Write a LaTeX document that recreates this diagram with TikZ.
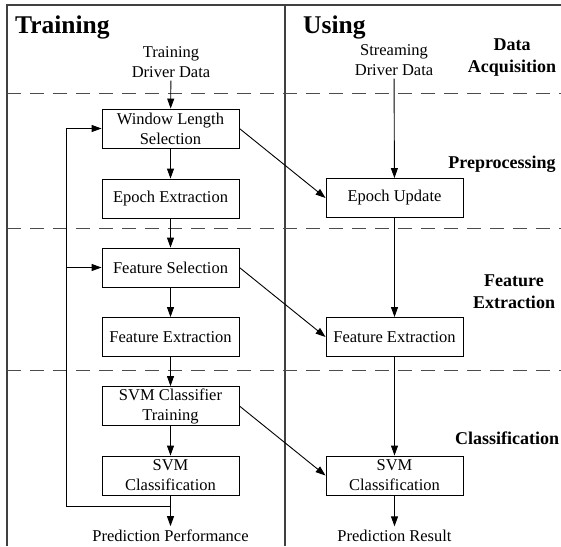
\documentclass[tikz,border=0pt]{standalone}
\usepackage{fontspec}
\setmainfont{Liberation Serif}
\usetikzlibrary{arrows.meta}
\tikzset{
    procbox/.style={draw, line width=0.9pt, minimum width=137pt, minimum height=39pt, inner sep=1pt, align=center, font=\fontsize{16.5}{20}\selectfont},
    plain/.style={align=center, inner sep=3pt, font=\fontsize{16.5}{20}\selectfont},
    stage/.style={align=center, inner sep=0pt, font=\fontsize{18}{22}\selectfont\bfseries},
    heading/.style={inner sep=0pt, font=\fontsize{25.5}{30}\selectfont\bfseries},
    arr/.style={line width=0.9pt, -{Triangle[length=10pt,width=7pt]}},
    frame/.style={line width=1.3pt, black!75},
    sep/.style={line width=1pt, black!70, dash pattern=on 14pt off 9pt}
}
\begin{document}
\begin{tikzpicture}[x=1pt,y=-1pt]
    \useasboundingbox (0,0) rectangle (561,546);
    \draw[frame] (7,546) -- (7,5) -- (561,5);
    \draw[frame] (285,5) -- (285,546);
    \foreach \y in {93,228,370}{
        \draw[sep] (7,\y) -- (561,\y);
    }
    \node[heading, anchor=base west] (train) at (15,33) {Training};
    \node[heading, anchor=base west] (use) at (303,33) {Using};
    \node[stage] (acq) at (512,58) {Data\\Acquisition};
    \node[stage, anchor=base] (pre) at (502,168) {Preprocessing};
    \node[stage] (fea) at (514,292) {Feature\\Extraction};
    \node[stage, anchor=base] (cls) at (507,444) {Classification};
    \node[plain] (tdd) at (171,62) {Training\\Driver Data};
    \node[plain] (sdd) at (394,60) {Streaming\\Driver Data};
    \node[procbox] (wls) at (170.5,128.5) {Window Length\\Selection};
    \node[procbox] (epx) at (170.5,198.5) {Epoch Extraction};
    \node[procbox] (fsel) at (170.5,267.5) {Feature Selection};
    \node[procbox] (fext) at (170.5,337) {Feature Extraction};
    \node[procbox] (svmt) at (170.5,406) {SVM Classifier\\Training};
    \node[procbox] (svmc) at (170.5,475.5) {SVM\\Classification};
    \node[plain, anchor=base] (perf) at (170.5,541) {Prediction Performance};
    \node[procbox] (epu) at (394.5,198) {Epoch Update};
    \node[procbox] (fextu) at (394.5,337) {Feature Extraction};
    \node[procbox] (svmcu) at (394.5,475.5) {SVM\\Classification};
    \node[plain, anchor=base] (res) at (394.5,541) {Prediction Result};
    \coordinate (fb) at (66,506);
    \draw[arr] (tdd) -- (wls);
    \draw[arr] (wls) -- (epx);
    \draw[arr] (epx) -- (fsel);
    \draw[arr] (fsel) -- (fext);
    \draw[arr] (fext) -- (svmt);
    \draw[arr] (svmt) -- (svmc);
    \draw[arr] (svmc) -- (perf);
    \draw[arr] (svmc.south |- fb) -- (fb) -- (fb |- wls.west) -- (wls.west);
    \draw[arr] (fb |- fsel.west) -- (fsel.west);
    \draw[arr] (sdd) -- (epu);
    \draw[arr] (epu) -- (fextu);
    \draw[arr] (fextu) -- (svmcu);
    \draw[arr] (svmcu) -- (res);
    \draw[arr] (wls.east) -- (epu.west);
    \draw[arr] (fsel.east) -- (fextu.west);
    \draw[arr] (svmt.east) -- (svmcu.west);
\end{tikzpicture}
\end{document}
